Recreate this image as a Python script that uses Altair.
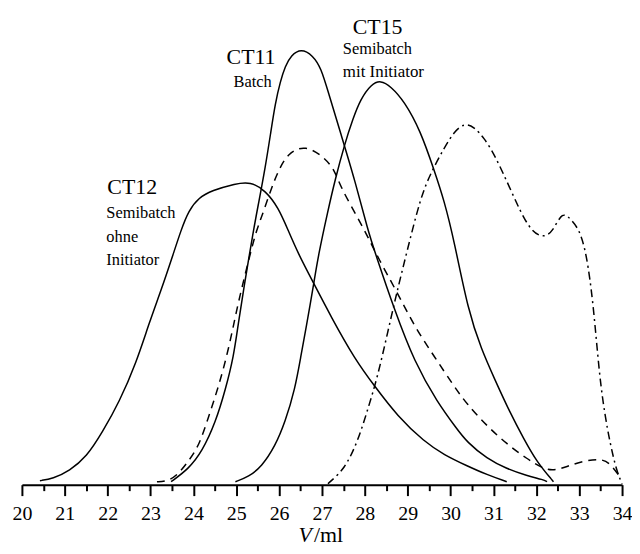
import altair as alt
import pandas as pd

# CT12 - Semibatch ohne Initiator (solid)
ct12_v = [20.42, 20.72, 21.11, 21.51, 21.88, 22.27, 22.67, 22.97, 23.25, 23.50, 23.71, 23.89, 24.13,
          24.43, 24.98, 25.33, 25.68, 25.98, 26.21, 26.44, 26.79, 27.21, 27.77, 28.23, 28.76, 29.39,
          29.85, 30.38, 30.85, 31.31]
ct12_i = [4, 6, 14, 28, 53, 83, 123, 163, 196, 228, 256, 276, 289,
          296, 303, 305, 296, 279, 256, 233, 204, 169, 126, 99, 69, 43,
          30, 19, 10, 3]

# CT11 - Batch (solid)
ct11_v = [23.48, 23.89, 24.20, 24.52, 24.75, 24.94, 25.05, 25.17, 25.40, 25.52, 25.68, 25.80, 25.91,
          26.03, 26.14, 26.28, 26.51, 26.79, 26.98, 27.14, 27.44, 27.77, 28.07, 28.25, 28.69, 29.16,
          29.69, 30.15, 30.38, 30.85, 31.31, 31.78, 32.17, 32.25]
ct11_i = [3, 16, 33, 63, 96, 129, 163, 196, 256, 283, 320, 353, 384,
          406, 421, 432, 439, 432, 419, 396, 353, 306, 256, 232, 176, 123,
          83, 56, 43, 26, 16, 9, 5, 3]

# CT15 - Semibatch mit Initiator (solid)
ct15_v = [24.98, 25.29, 25.59, 25.91, 26.14, 26.37, 26.51, 26.63, 26.80, 26.91, 27.14, 27.30, 27.53,
          27.72, 27.90, 28.15, 28.37, 28.60, 28.92, 29.30, 29.62, 29.85, 30.08, 30.41, 30.72, 31.03,
          31.38, 31.71, 32.01, 32.40]
ct15_i = [3, 8, 18, 39, 63, 96, 130, 158, 200, 230, 276, 306, 343,
          368, 388, 403, 407, 401, 386, 356, 316, 286, 246, 175, 136, 106,
          73, 46, 23, 3]

# dashed curve
dash_v = [23.15, 23.36, 23.62, 23.89, 24.13, 24.36, 24.59, 24.82, 25.01, 25.12, 25.30, 25.47, 25.59,
          25.80, 25.98, 26.21, 26.61, 27.07, 27.30, 27.44, 27.83, 28.11, 28.30, 28.76, 29.16, 29.62,
          30.08, 30.38, 30.85, 31.31, 31.78, 32.17, 32.40, 32.70, 33.10, 33.47, 33.70, 33.98]
dash_i = [3, 3, 9, 24, 39, 69, 99, 136, 176, 196, 228, 256, 269,
          296, 316, 334, 342, 329, 316, 299, 269, 246, 229, 193, 159, 129,
          99, 81, 59, 41, 26, 16, 14, 18, 24, 26, 23, 6]

# dash-dot curve
dd_v = [27.14, 27.19, 27.53, 27.83, 28.07, 28.30, 28.53, 28.76, 28.99, 29.30, 29.53, 29.85, 30.08,
        30.32, 30.55, 30.78, 31.03, 31.43, 31.82, 32.15, 32.38, 32.61, 32.82, 33.00, 33.17, 33.33,
        33.47, 33.60, 33.72, 33.87, 34.00]
dd_i = [1, 3, 16, 43, 76, 109, 153, 196, 236, 289, 313, 339, 355,
        364, 360, 349, 332, 294, 257, 248, 254, 276, 266, 257, 233, 182,
        110, 70, 42, 14, 1]

major_ticks = list(range(20, 35))
minor_ticks = [x + 0.5 for x in range(20, 34)]

def frame(name, vs, ys):
    return pd.DataFrame({"series": name, "V": vs, "I": ys, "order": range(len(vs))})

solid_df = pd.concat([frame("CT12", ct12_v, ct12_i),
                      frame("CT11", ct11_v, ct11_i),
                      frame("CT15", ct15_v, ct15_i)])
dash_df = frame("dashed", dash_v, dash_i)
dd_df = frame("dashdot", dd_v, dd_i)

FONT = "Liberation Serif, Times New Roman, serif"
INTERP = "basis"
xscale = alt.Scale(domain=[20, 34], nice=False, zero=False)
yscale = alt.Scale(domain=[0, 478], nice=False, zero=False)

major_axis = alt.Axis(values=major_ticks, orient="bottom", title=None, grid=False,
                      tickSize=11, tickWidth=2, tickColor="black",
                      domainWidth=2, domainColor="black",
                      labelFont=FONT, labelFontSize=20, labelColor="black",
                      labelPadding=8, labelFlush=False, labelOverlap=False, format="d")
minor_axis = alt.Axis(values=minor_ticks, orient="bottom", title=None, grid=False,
                      tickSize=6, tickWidth=2, tickColor="black",
                      domain=False, labels=False)

solid = alt.Chart(solid_df).mark_line(color="black", strokeWidth=1.5, interpolate=INTERP).encode(
    x=alt.X("V:Q", scale=xscale, axis=major_axis),
    y=alt.Y("I:Q", scale=yscale, axis=None),
    detail="series:N",
    order="order:Q",
)
dashed = alt.Chart(dash_df).mark_line(color="black", strokeWidth=1.5, strokeDash=[8, 6],
                                      interpolate=INTERP).encode(
    x=alt.X("V:Q", scale=xscale, axis=minor_axis),
    y=alt.Y("I:Q", scale=yscale, axis=None),
    order="order:Q",
)
dashdot = alt.Chart(dd_df).mark_line(color="black", strokeWidth=1.5, strokeDash=[8, 4, 2, 4],
                                     interpolate=INTERP).encode(
    x=alt.X("V:Q", scale=xscale, axis=None),
    y=alt.Y("I:Q", scale=yscale, axis=None),
    order="order:Q",
)

def label(text, x, y, size, style="normal", align="left"):
    return alt.Chart(pd.DataFrame({"t": [text]})).mark_text(
        font=FONT, fontSize=size, fontStyle=style, align=align, baseline="alphabetic", color="black"
    ).encode(x=alt.value(x), y=alt.value(y), text="t:N")

texts = [
    label("CT15", 333, 24, 22),
    label("Semibatch", 323, 45, 16.5),
    label("mit Initiator", 323, 68, 17),
    label("CT11", 206, 55, 22),
    label("Batch", 213, 78, 16.5),
    label("CT12", 86, 185, 22),
    label("Semibatch", 85, 210, 16.5),
    label("ohne", 85, 234, 16.5),
    label("Initiator", 85, 257, 16.5),
    label("V", 285, 536, 22, style="italic", align="center"),
    label("/ml", 294, 536, 22),
]

chart = alt.layer(solid, dashed, dashdot, *texts).resolve_axis(x="independent").properties(
    width=604, height=478,
    autosize=alt.AutoSizeParams(type="none"),
    padding={"left": 14, "top": 0, "right": 10, "bottom": 60},
).configure_view(stroke=None)

chart.save("out.html", embed_options={"renderer": "svg", "actions": False})
